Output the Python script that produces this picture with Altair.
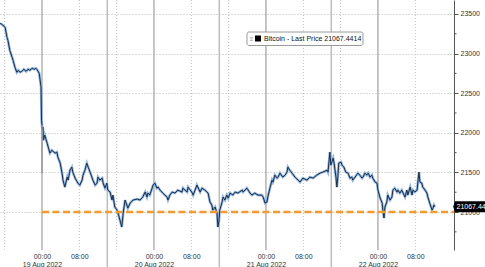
import altair as alt
import pandas as pd

BASE = pd.Timestamp("2022-08-19T00:00:00Z")

# hours after 19 Aug 2022 00:00 and Bitcoin price
HOURS = [
    -9.0, -8.6, -7.9, -7.5, -7.3, -6.9, -6.4, -6.2, -5.8, -5.4,
    -5.1, -4.7, -4.3, -3.9, -3.4, -3.0, -2.6, -2.1, -1.7, -1.3,
    -1.1, -0.6, -0.2, -0.1, 0.1, 0.2, 0.3, 0.6, 1.1, 1.7,
    2.1, 2.8, 3.2, 3.4, 3.9, 4.3, 4.5, 4.9, 5.4, 5.6,
    6.0, 6.4, 6.6, 7.1, 7.7, 8.1, 8.6, 8.8, 9.2, 9.6,
    9.9, 10.3, 10.7, 10.9, 11.4, 11.8, 12.0, 12.4, 12.9, 13.1,
    13.5, 13.9, 14.1, 14.6, 15.0, 15.2, 15.6, 16.1, 16.3, 16.7,
    17.1, 17.4, 17.8, 18.2, 18.4, 18.9, 19.5, 20.4, 21.0, 21.6,
    22.1, 22.5, 22.7, 23.1, 23.6, 23.8, 24.2, 24.6, 24.9, 25.3,
    25.9, 26.8, 27.0, 27.4, 27.9, 28.5, 29.1, 30.0, 30.2, 31.1,
    31.3, 32.1, 32.4, 32.8, 33.2, 33.4, 33.9, 34.3, 34.9, 35.6,
    36.0, 36.4, 36.6, 37.1, 37.5, 37.7, 37.9, 38.1, 38.6, 38.8,
    39.2, 39.6, 39.9, 40.3, 40.9, 41.4, 42.0, 42.9, 43.1, 43.9,
    44.6, 45.0, 45.6, 46.3, 47.1, 47.4, 47.8, 48.2, 48.4, 48.9,
    49.3, 49.5, 49.9, 50.4, 50.6, 51.0, 51.6, 52.1, 52.5, 52.7,
    53.1, 53.6, 54.2, 54.9, 55.3, 55.9, 56.8, 57.4, 58.1, 58.9,
    59.6, 60.2, 61.1, 61.3, 61.7, 61.9, 62.4, 62.6, 63.0, 63.2,
    63.4, 63.6, 64.1, 64.3, 64.7, 65.1, 65.6, 66.0, 66.4, 66.6,
    67.1, 67.7, 68.1, 68.6, 68.8, 69.2, 69.6, 69.9, 70.3, 70.7,
    70.9, 71.4, 71.8, 72.0, 72.4, 72.9, 73.1, 73.3, 73.5, 73.9,
    74.1, 74.6, 75.0, 75.2, 75.6, 76.1, 76.3, 76.7, 77.1, 77.4,
    77.8, 78.2, 78.4, 78.9, 79.3, 79.5, 79.9, 80.4, 80.6, 80.8,
    81.0, 81.4, 81.6, 82.1, 82.5, 82.7, 83.1, 83.6, 83.8, 84.0,
    84.2,
]
PRICES = [
    23381, 23369, 23331, 23205, 23167, 23041, 22953, 22915, 22827, 22764,
    22789, 22764, 22776, 22802, 22776, 22802, 22789, 22814, 22802, 22814,
    22802, 22751, 22575, 22159, 22033, 22071, 21907, 21970, 21869, 21743,
    21781, 21743, 21756, 21693, 21617, 21491, 21403, 21315, 21441, 21403,
    21529, 21567, 21504, 21428, 21365, 21340, 21403, 21466, 21529, 21617,
    21567, 21504, 21441, 21403, 21340, 21365, 21441, 21403, 21428, 21365,
    21302, 21365, 21277, 21252, 21151, 21214, 21063, 21025, 20987, 20899,
    20811, 20987, 21151, 21088, 21050, 21113, 21151, 21164, 21151, 21189,
    21252, 21189, 21239, 21214, 21302, 21340, 21365, 21302, 21315, 21277,
    21239, 21189, 21151, 21214, 21252, 21239, 21277, 21252, 21302, 21252,
    21315, 21252, 21214, 21277, 21340, 21315, 21252, 21302, 21277, 21239,
    21126, 21088, 21025, 21063, 20987, 20811, 20874, 21025, 21126, 21189,
    21151, 21214, 21176, 21239, 21214, 21252, 21239, 21277, 21252, 21302,
    21239, 21214, 21239, 21214, 21214, 21189, 21113, 21126, 21189, 21315,
    21403, 21378, 21466, 21428, 21441, 21491, 21441, 21466, 21504, 21567,
    21529, 21491, 21441, 21403, 21378, 21428, 21403, 21441, 21428, 21466,
    21491, 21504, 21529, 21504, 21756, 21592, 21680, 21617, 21441, 21315,
    21441, 21617, 21630, 21592, 21567, 21504, 21491, 21428, 21441, 21403,
    21441, 21491, 21466, 21428, 21441, 21491, 21466, 21491, 21441, 21466,
    21428, 21378, 21365, 21277, 21189, 21113, 21000, 20924, 21063, 21126,
    21214, 21151, 21189, 21277, 21302, 21252, 21277, 21239, 21277, 21239,
    21189, 21277, 21214, 21315, 21214, 21277, 21252, 21277, 21403, 21504,
    21378, 21365, 21315, 21277, 21239, 21189, 21113, 21025, 21050, 21088,
    21067.4414,
]
assert len(HOURS) == len(PRICES)

LAST_PRICE = 21067.4414
SUPPORT_LEVEL = 21000
SUPPORT_START_H = 0.0
WICK_H = 0.0
WICK_LOW, WICK_HIGH = 21491, 22100
Y_TICKS = [21000, 21500, 22000, 22500, 23000, 23500]
Y_MINOR = [20750, 21250, 21750, 22250, 22750, 23250]
Y_DOMAIN = [20521, 23676]
X_START_H, X_END_H = -9.0, 88.3
LABEL_H = [0, 8, 24, 32, 48, 56, 72, 80]          # tick labels
SOLID_H = [0, 24, 48, 72]                          # solid day lines
SESSION_H = [14, 38, 62]                           # lighter solid lines
DOTTED_H = [-8, 8, 16, 32, 40, 56, 64, 80]         # dotted lines

W, H = 454, 250


def iso(h):
    return (BASE + pd.Timedelta(hours=h)).strftime("%Y-%m-%dT%H:%M:%SZ")


def ms(h):
    return int((BASE + pd.Timedelta(hours=h)).value // 10**6)


df = pd.DataFrame({"t": [iso(h) for h in HOURS], "price": PRICES})

xscale = alt.Scale(type="utc", domain=[ms(X_START_H), ms(X_END_H)])
yscale = alt.Scale(domain=Y_DOMAIN, zero=False, nice=False)
FONT = "Liberation Sans"

label_expr = ("utchours(datum.value) == 0 ? [utcFormat(datum.value, '%H:%M'), "
              "utcFormat(datum.value, '%d %b %Y')] : utcFormat(datum.value, '%H:%M')")

x_axis = alt.Axis(values=[ms(h) for h in LABEL_H], labelExpr=label_expr, grid=False,
                  domain=False, ticks=False, labelPadding=2, labelFontSize=7,
                  labelColor="#333333", labelLineHeight=8, labelOverlap=False,
                  labelFont=FONT, title=None, labelBound=False, labelFlush=False)
y_axis = alt.Axis(orient="right", values=Y_TICKS, format="d", grid=True,
                  gridDash=[1, 2], gridColor="#b5b5b5", domainColor="#555555",
                  tickColor="#555555", tickSize=4, labelPadding=2, labelFontSize=7,
                  labelColor="#333333", labelFont=FONT, title=None)


def vlines(hours, color, width, dash=None, y2=H):
    kw = dict(color=color, strokeWidth=width)
    if dash:
        kw["strokeDash"] = dash
    return alt.Chart(pd.DataFrame({"t": [iso(h) for h in hours]})).mark_rule(**kw).encode(
        x=alt.X("t:T", scale=xscale), y=alt.value(0), y2=alt.value(y2))


solid = vlines(SOLID_H, "#8c8c8c", 1)
session = vlines(SESSION_H, "#bdbdbd", 1.5, y2=267)
dotted = vlines(DOTTED_H, "#bdbdbd", 1, dash=[1, 2])

halo = alt.Chart(df).mark_line(color="#86aedb", strokeWidth=2.6, opacity=0.9).encode(
    x=alt.X("t:T", scale=xscale, axis=x_axis),
    y=alt.Y("price:Q", scale=yscale, axis=y_axis))
core = alt.Chart(df).mark_line(color="#1b2d47", strokeWidth=1).encode(
    x=alt.X("t:T", scale=xscale), y=alt.Y("price:Q", scale=yscale))

wick = alt.Chart(pd.DataFrame({"t": [iso(WICK_H)], "lo": [WICK_LOW], "hi": [WICK_HIGH]})).mark_rule(
    color="#9a9a9a", strokeWidth=1.5).encode(
    x=alt.X("t:T", scale=xscale), y=alt.Y("lo:Q", scale=yscale), y2="hi:Q")

support = alt.Chart(pd.DataFrame({"t": [iso(SUPPORT_START_H)], "p": [SUPPORT_LEVEL]})).mark_rule(
    color="#f29b2e", strokeWidth=2.6, strokeDash=[7, 3.5]).encode(
    x=alt.X("t:T", scale=xscale), x2=alt.value(W), y=alt.Y("p:Q", scale=yscale))

minor = alt.Chart(pd.DataFrame({"p": Y_MINOR})).mark_rule(color="#555555").encode(
    x=alt.value(W), x2=alt.value(W + 2.5), y=alt.Y("p:Q", scale=yscale))

one = pd.DataFrame({"a": [0]})
tag = alt.Chart(pd.DataFrame({"p": [LAST_PRICE]})).mark_point(
    shape="M-1.12,0L-1,-0.37H1V0.37H-1Z", size=900, filled=True, color="#000000",
    opacity=1).encode(x=alt.value(470), y=alt.Y("p:Q", scale=yscale))
tag_text = alt.Chart(pd.DataFrame({"p": [LAST_PRICE], "s": [f"{LAST_PRICE:.2f}"]})).mark_text(
    align="left", baseline="middle", color="#ffffff", fontSize=7, font=FONT).encode(
    x=alt.value(456.5), y=alt.Y("p:Q", scale=yscale), text="s:N")

legend_box = alt.Chart(one).mark_rect(fill="#ffffff", stroke="#9a9a9a", strokeWidth=1,
                                      cornerRadius=2).encode(
    x=alt.value(247), x2=alt.value(363), y=alt.value(32), y2=alt.value(45.5))
legend_sq = alt.Chart(one).mark_rect(fill="#000000").encode(
    x=alt.value(255), x2=alt.value(261), y=alt.value(35.5), y2=alt.value(41.5))
legend_icon = alt.Chart(pd.DataFrame({"s": ["≡"]})).mark_text(
    fontSize=6, color="#888888", align="center", baseline="middle", font=FONT).encode(
    x=alt.value(251.5), y=alt.value(38.5), text="s:N")
legend_text = alt.Chart(pd.DataFrame({"s": [f"Bitcoin - Last Price {LAST_PRICE}"]})).mark_text(
    fontSize=7, color="#111111", align="left", baseline="middle", font=FONT).encode(
    x=alt.value(264), y=alt.value(38.8), text="s:N")

chart = alt.layer(
    dotted, solid, session, halo, core, wick, support, minor,
    tag, tag_text, legend_box, legend_sq, legend_icon, legend_text,
).properties(
    width=W, height=H, autosize=alt.AutoSizeParams(type="none"),
    padding={"left": 0, "top": 0, "right": 31, "bottom": 17},
    background="#ffffff",
).configure_view(stroke=None)

chart.save("out.html", embed_options={"renderer": "svg", "actions": False})
